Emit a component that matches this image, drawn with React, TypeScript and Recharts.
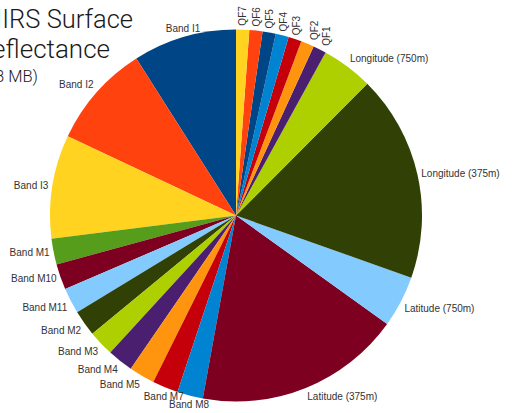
import React from "react"
import { PieChart, Pie, Cell } from "recharts"

// dataset names, counter-clockwise from 12 o'clock
const datasets = [
  "Band I1", "Band I2", "Band I3",
  "Band M1", "Band M10", "Band M11", "Band M2", "Band M3", "Band M4", "Band M5", "Band M7", "Band M8",
  "Latitude (375m)", "Latitude (750m)", "Longitude (375m)", "Longitude (750m)",
  "QF1", "QF2", "QF3", "QF4", "QF5", "QF6", "QF7",
]

// size in MB
const sizesMB = [
  19.7, 19.7, 19.7,
  4.9, 4.9, 4.9, 4.9, 4.9, 4.9, 4.9, 4.9, 4.9,
  39.3, 9.8, 39.3, 9.8,
  2.5, 2.5, 2.5, 2.5, 2.5, 2.5, 2.5,
]

const sliceColors = [
  "#004586", "#ff420e", "#ffd320",
  "#579d1c", "#7e0021", "#83caff", "#314004", "#aecf00", "#4b1f6f", "#ff950e", "#c5000b", "#0084d1",
  "#7e0021", "#83caff", "#314004", "#aecf00",
  "#4b1f6f", "#ff950e", "#c5000b", "#0084d1", "#004586", "#ff420e", "#ffd320",
]

const titleLines = ["VIIRS Surface", "Reflectance", "(218 MB)"]

const data = datasets.map((name, i) => ({ name, size: sizesMB[i] }))

const LABEL_FONT = "10px 'Liberation Sans', Arial, sans-serif"
let ctx: CanvasRenderingContext2D | null = null
function textWidth(s: string) {
  if (!ctx) {
    ctx = document.createElement("canvas").getContext("2d")
    if (ctx) ctx.font = LABEL_FONT
  }
  return ctx ? ctx.measureText(s).width : s.length * 5.5
}

// LibreOffice style "outside" labels: the box touches the point with a side or a corner
function renderLabel(props: any) {
  const { cx, cy, midAngle, name, value } = props
  const a = ((midAngle % 360) + 360) % 360
  const rad = (a * Math.PI) / 180
  const r = 190
  const px = cx + r * Math.cos(rad)
  const py = cy - r * Math.sin(rad)
  const rotated = value < 3
  const tw = textWidth(name)
  const th = 10
  const bw = rotated ? th : tw
  const bh = rotated ? tw : th
  let sx = 0, sy = 0
  if (a < 22.5 || a >= 337.5) { sx = 1; sy = 0 }
  else if (a < 67.5) { sx = 1; sy = -1 }
  else if (a < 112.5) { sx = 0; sy = -1 }
  else if (a < 157.5) { sx = -1; sy = -1 }
  else if (a < 202.5) { sx = -1; sy = 0 }
  else if (a < 247.5) { sx = -1; sy = 1 }
  else if (a < 290) { sx = 0; sy = 1 }
  else { sx = 1; sy = 1 }
  const bx = px + (sx * bw) / 2
  const by = py + (sy * bh) / 2
  return (
    <text
      x={bx}
      y={by}
      textAnchor="middle"
      dominantBaseline="central"
      fill="#333"
      style={{ font: LABEL_FONT }}
      transform={rotated ? `rotate(-90 ${bx} ${by})` : undefined}
    >
      {name}
    </text>
  )
}

export default function App() {
  return (
    <div style={{ position: "absolute", left: 0, top: 0, width: 513, height: 413, background: "#fff", overflow: "hidden" }}>
      <PieChart width={513} height={413} margin={{ top: 0, right: 0, bottom: 0, left: 0 }}>
        <Pie
          data={data}
          dataKey="size"
          nameKey="name"
          cx={236}
          cy={215.5}
          outerRadius={186}
          startAngle={90}
          endAngle={450}
          stroke="none"
          label={renderLabel}
          labelLine={false}
          isAnimationActive={false}
        >
          {data.map((d, i) => <Cell key={d.name} fill={sliceColors[i]} stroke="none" />)}
        </Pie>
      </PieChart>
      <svg width={513} height={413} style={{ position: "absolute", left: 0, top: 0, pointerEvents: "none" }}>
        <g fill="#1a1a1a" style={{ fontFamily: "Roboto, sans-serif", fontWeight: 300 }}>
          <text x={133} y={28} textAnchor="end" fontSize={25.5}>{titleLines[0]}</text>
          <text x={110} y={58} textAnchor="end" fontSize={26}>{titleLines[1]}</text>
          <text x={38} y={82} textAnchor="end" fontSize={16.5}>{titleLines[2]}</text>
        </g>
      </svg>
    </div>
  )
}
